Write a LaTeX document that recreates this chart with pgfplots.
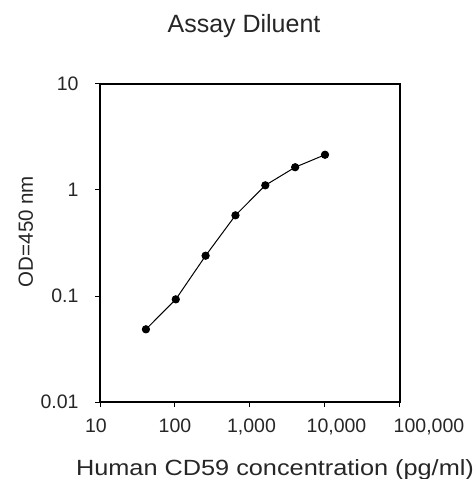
\documentclass[border=0pt]{standalone}
\usepackage{pgfplots}
\pgfplotsset{compat=1.18}
\usepackage{fontspec}
\setmainfont{Liberation Sans}
\usepackage{graphicx}
\begin{document}
\begin{tikzpicture}[x=1pt,y=1pt]
\path[use as bounding box] (-100,-77) rectangle (375,402);
\begin{axis}[
  at={(0,0)}, anchor=south west,
  scale only axis, width=300pt, height=318pt,
  xmode=log, ymode=log,
  xmin=10, xmax=100000, ymin=0.01, ymax=10,
  axis line style={line width=1.3pt, black},
  tick style={line width=1pt, black},
  tick align=outside, major tick length=5pt,
  xtick pos=bottom, ytick pos=left,
  minor tick num=0,
  xtick={10,100,1000,10000,100000},
  xticklabels={{\hspace*{-8pt}10},100,{\hspace*{3pt}1,000},{\hspace*{23pt}10,000},{\hspace*{58pt}100,000}},
  ytick={0.01,0.1,1,10},
  yticklabels={0.01,0.1,1,10},
  xminorticks=false, yminorticks=false,
  ticklabel style={font=\fontsize{19.5}{22}\selectfont, text=black!85},
  xticklabel style={yshift=-8pt},
  yticklabel style={xshift=-13pt},
]
\addplot[black, line width=1pt, mark=*, mark size=3.6pt] coordinates {
  (40.96,0.0485) (102.4,0.093) (256,0.24) (640,0.577) (1600,1.107) (4000,1.64) (10000,2.15)
};
\end{axis}
\node[anchor=base, text=black!85, font=\fontsize{25}{28}\selectfont] at (144,369) {Assay Diluent};
\node[anchor=base, rotate=90, text=black!85, font=\fontsize{20.5}{24}\selectfont] at (-67,170.5) {OD=450 nm};
\node[anchor=base, text=black!85, font=\fontsize{22}{26}\selectfont] at (175,-73) {\scalebox{1.15}[1]{Human CD59 concentration (pg/ml)}};
\end{tikzpicture}
\end{document}
